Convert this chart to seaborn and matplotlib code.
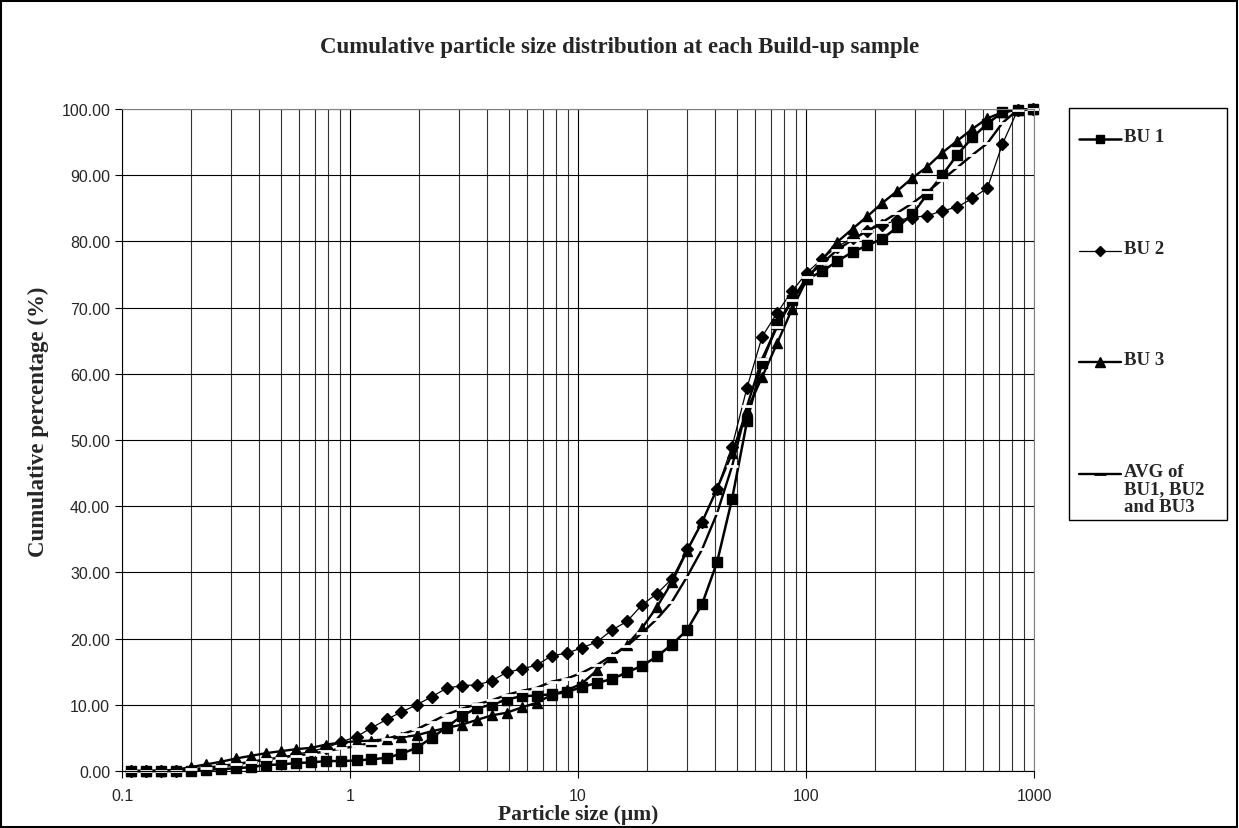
import numpy as np
import pandas as pd
import matplotlib
matplotlib.use("Agg")
import matplotlib.pyplot as plt
import seaborn as sns
from matplotlib.lines import Line2D
from matplotlib.patches import Rectangle
from matplotlib.ticker import FixedLocator, FixedFormatter, LogLocator, NullFormatter, FormatStrFormatter

# particle size classes (um)
size_um = [0.110, 0.127, 0.148, 0.173, 0.201, 0.234, 0.272, 0.317, 0.369, 0.429,
           0.499, 0.581, 0.676, 0.787, 0.917, 1.07, 1.24, 1.45, 1.68, 1.96,
           2.28, 2.65, 3.09, 3.59, 4.18, 4.86, 5.66, 6.59, 7.67, 8.93,
           10.4, 12.1, 14.1, 16.4, 19.1, 22.2, 25.8, 30.1, 35.0, 40.7,
           47.4, 55.1, 64.2, 74.7, 86.9, 101, 118, 137, 160, 186,
           216, 251, 293, 341, 396, 461, 537, 625, 727, 847, 985]

# cumulative % for each build-up sample
bu1 = [0.0, 0.0, 0.0, 0.0, 0.05, 0.15, 0.3, 0.4, 0.6, 0.9,
       1.0, 1.2, 1.3, 1.5, 1.5, 1.6, 1.75, 2.0, 2.6, 3.5,
       5.0, 6.6, 8.3, 9.5, 10.0, 10.8, 11.3, 11.4, 11.6, 11.9,
       12.7, 13.3, 13.9, 14.9, 15.9, 17.3, 19.1, 21.3, 25.2, 31.5,
       41.1, 52.8, 61.7, 67.5, 71.1, 74.3, 75.5, 77.0, 78.4, 79.4,
       80.4, 82.1, 84.1, 87.2, 90.0, 93.1, 95.7, 97.8, 99.5, 99.9, 100.0]
bu2 = [0.0, 0.0, 0.0, 0.0, 0.1, 0.3, 0.6, 0.9, 1.3, 1.7,
       2.1, 2.5, 3.0, 3.5, 4.4, 5.2, 6.5, 7.8, 8.9, 10.0,
       11.2, 12.5, 12.9, 13.0, 13.6, 14.9, 15.4, 16.0, 17.4, 17.8,
       18.6, 19.5, 21.3, 22.6, 25.1, 26.8, 29.0, 33.5, 37.6, 42.6,
       49.0, 57.9, 65.6, 69.2, 72.5, 75.3, 77.4, 79.2, 80.5, 81.6,
       82.5, 83.2, 83.6, 83.9, 84.6, 85.2, 86.5, 88.1, 94.7, 99.8, 100.0]
bu3 = [0.0, 0.0, 0.05, 0.2, 0.6, 1.0, 1.4, 1.9, 2.3, 2.7,
       3.0, 3.3, 3.5, 4.0, 4.3, 4.5, 4.6, 4.8, 5.1, 5.4,
       6.0, 6.5, 7.0, 7.7, 8.4, 8.8, 9.6, 10.3, 11.5, 12.2,
       13.2, 15.2, 17.2, 19.1, 21.6, 24.8, 28.5, 33.3, 37.6, 42.6,
       48.0, 54.5, 59.5, 64.6, 69.8, 74.3, 77.3, 79.9, 81.9, 83.8,
       85.8, 87.6, 89.6, 91.3, 93.4, 95.2, 97.0, 98.6, 99.5, 99.9, 100.0]
# average of the three samples
avg = list(np.mean([bu1, bu2, bu3], axis=0))

x_ticks = [0.1, 1, 10, 100, 1000]
x_tick_labels = ["0.1", "1", "10", "100", "1000"]
y_ticks = list(range(0, 101, 10))

sns.set_style("white")
plt.rcParams['font.family'] = ['Liberation Sans', 'DejaVu Sans']
serif = ['Liberation Serif', 'DejaVu Serif']

W, H = 1239, 829
fig = plt.figure(figsize=(W / 100, H / 100), dpi=100)
ax = fig.add_axes([122 / W, 1 - 772 / H, (1034 - 122) / W, (772 - 110) / H])

series = [
    (bu1, "s", 6.8, 1.8),
    (bu2, "D", 5.8, 0.9),
    (bu3, "^", 7.2, 1.7),
]
for vals, mk, ms, lw in series:
    sns.lineplot(x=size_um, y=vals, ax=ax, color="black", marker=mk, markersize=ms,
                 linewidth=lw, markeredgecolor="black", markeredgewidth=1,
                 legend=False, clip_on=False)
sns.lineplot(x=size_um, y=avg, ax=ax, color="black", marker="_", markersize=9,
             markeredgewidth=2, linewidth=1.7, legend=False, clip_on=False)

ax.set_xscale("log")
ax.set_xlim(0.1, 1000)
ax.set_ylim(0, 100)
ax.xaxis.set_major_locator(FixedLocator(x_ticks))
ax.xaxis.set_major_formatter(FixedFormatter(x_tick_labels))
ax.xaxis.set_minor_locator(LogLocator(base=10, subs=np.arange(2, 10)))
ax.xaxis.set_minor_formatter(NullFormatter())
ax.yaxis.set_major_locator(FixedLocator(y_ticks))
ax.yaxis.set_major_formatter(FormatStrFormatter("%.2f"))

ax.grid(True, which="major", axis="both", color="black", linewidth=0.8)
ax.grid(True, which="minor", axis="x", color="#333333", linewidth=0.8)
ax.set_axisbelow(True)
ax.tick_params(axis="both", which="major", direction="out", length=5, width=0.8,
               labelsize=11.5, color="black", bottom=True, left=True)
ax.tick_params(axis="x", which="minor", length=0)
ax.tick_params(axis="x", pad=7)
for side in ["left", "bottom"]:
    ax.spines[side].set_color("black")
for side in ["top", "right"]:
    ax.spines[side].set_color("#808080")
ax.set_xlabel("")
ax.set_ylabel("")

fig.text(620 / W, 1 - 48 / H, "Cumulative particle size distribution at each Build-up sample",
         ha="center", va="center", fontsize=16.5, fontweight="bold", family=serif)
fig.text(578 / W, 1 - 815 / H, "Particle size (\u00b5m)", ha="center", va="center",
         fontsize=15.5, fontweight="bold", family=serif)
fig.text(38 / W, 1 - 422 / H, "Cumulative percentage (%)", ha="center", va="center",
         rotation=90, fontsize=16.5, fontweight="bold", family=serif)

# legend box drawn by hand (entries are spread over the full height)
fig.add_artist(Rectangle((1069 / W, 1 - 521 / H), 158 / W, 412 / H, transform=fig.transFigure,
                         fill=False, edgecolor="black", linewidth=1))
legend_rows = [
    ("BU 1", 140, "s", 6.0, 1.8),
    ("BU 2", 252, "D", 5.0, 0.9),
    ("BU 3", 363, "^", 6.5, 1.7),
    ("AVG of\nBU1, BU2\nand BU3", 475, "_", 8, 1.7),
]
for label, ypx, mk, ms, lw in legend_rows:
    yf = 1 - ypx / H
    fig.add_artist(Line2D([1079 / W, 1100 / W, 1121 / W], [yf, yf, yf], transform=fig.transFigure,
                          color="black", linewidth=lw, marker=mk, markersize=ms,
                          markeredgewidth=2 if mk == "_" else 1, markevery=[1]))
    fig.text(1124 / W, 1 - (ypx - 11) / H, label, ha="left", va="top", fontsize=13.5,
             fontweight="bold", family=serif, linespacing=1.05)

# outer frame of the chart
fig.add_artist(Rectangle((0.001, 0.001), 0.997, 0.997, transform=fig.transFigure,
                         fill=False, edgecolor="black", linewidth=1.5))

fig.savefig("out.png", dpi=100)
